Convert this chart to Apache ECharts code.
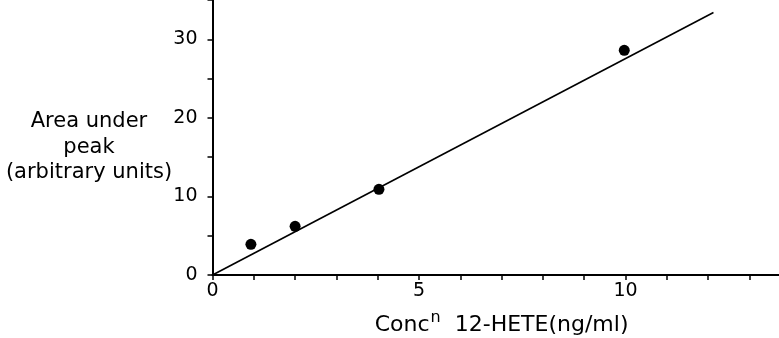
<!DOCTYPE html>
<html>
<head>
<meta charset="utf-8">
<script src="https://cdn.jsdelivr.net/npm/echarts@6/dist/echarts.min.js"></script>
<style>html,body{margin:0;padding:0;background:#fff;}#c{width:779px;height:338px;}</style>
</head>
<body>
<div id="c"></div>
<script>
// Data
var concentrations = [0.93, 2.0, 4.03, 9.97];      // ng/ml
var peakAreas = [3.9, 6.2, 10.9, 28.6];             // arbitrary units
var fitLineX = [0, 12.13];
var fitLineY = [0, 33.4];
var xTickLabels = ['0', '5', '10'];
var yTickLabels = ['0', '10', '20', '30'];
var yTitleLines = ['Area under', 'peak', '(arbitrary units)'];

var FONT = 'DejaVu Sans';
var chart = echarts.init(document.getElementById('c'), null, {renderer: 'canvas'});

var pts = concentrations.map(function (x, i) { return [x, peakAreas[i]]; });
var fit = fitLineX.map(function (x, i) { return [x, fitLineY[i]]; });

chart.setOption({
  backgroundColor: '#fff',
  animation: false,
  grid: {left: 212.5, width: 578.2, top: 0, height: 275, containLabel: false, outerBoundsMode: 'none'},
  xAxis: {
    type: 'value', min: 0, max: 14, interval: 1,
    axisLine: {show: true, onZero: false, lineStyle: {color: '#000', width: 2}},
    axisTick: {show: true, length: 5, inside: false, lineStyle: {color: '#000', width: 1.5}},
    splitLine: {show: false},
    axisLabel: {
      color: '#000', fontFamily: FONT, fontSize: 19, margin: 7,
      formatter: function (v) { return xTickLabels.indexOf(String(v)) >= 0 ? String(v) : ''; }
    },
    name: '{a|Conc}{s|n}{a|  12-HETE(ng/ml)}',
    nameLocation: 'middle', nameGap: 35,
    nameTextStyle: {
      rich: {
        a: {fontFamily: FONT, fontSize: 22, color: '#000', verticalAlign: 'bottom', lineHeight: 26},
        s: {fontFamily: FONT, fontSize: 16, color: '#000', verticalAlign: 'top', padding: [0, 0, 13, 1], lineHeight: 26}
      }
    }
  },
  yAxis: {
    type: 'value', min: 0, max: 35, interval: 5,
    axisLine: {show: true, onZero: false, lineStyle: {color: '#000', width: 2}},
    axisTick: {show: true, length: 5, inside: false, lineStyle: {color: '#000', width: 1.5}},
    splitLine: {show: false},
    axisLabel: {
      color: '#000', fontFamily: FONT, fontSize: 19, margin: 15,
      formatter: function (v) { return yTickLabels.indexOf(String(v)) >= 0 ? String(v) : ''; }
    }
  },
  graphic: [{
    type: 'text', x: 89, y: 109, z: 10,
    style: {
      text: yTitleLines.join('\n'), align: 'center', textAlign: 'center',
      font: '21px ' + FONT, lineHeight: 25.5, fill: '#000'
    }
  }],
  series: [
    {type: 'line', data: fit, symbol: 'none', lineStyle: {color: '#000', width: 1.6}, silent: true},
    {type: 'scatter', data: pts, symbol: 'circle', symbolSize: 11, itemStyle: {color: '#000', opacity: 1}}
  ]
});
</script>
</body>
</html>
